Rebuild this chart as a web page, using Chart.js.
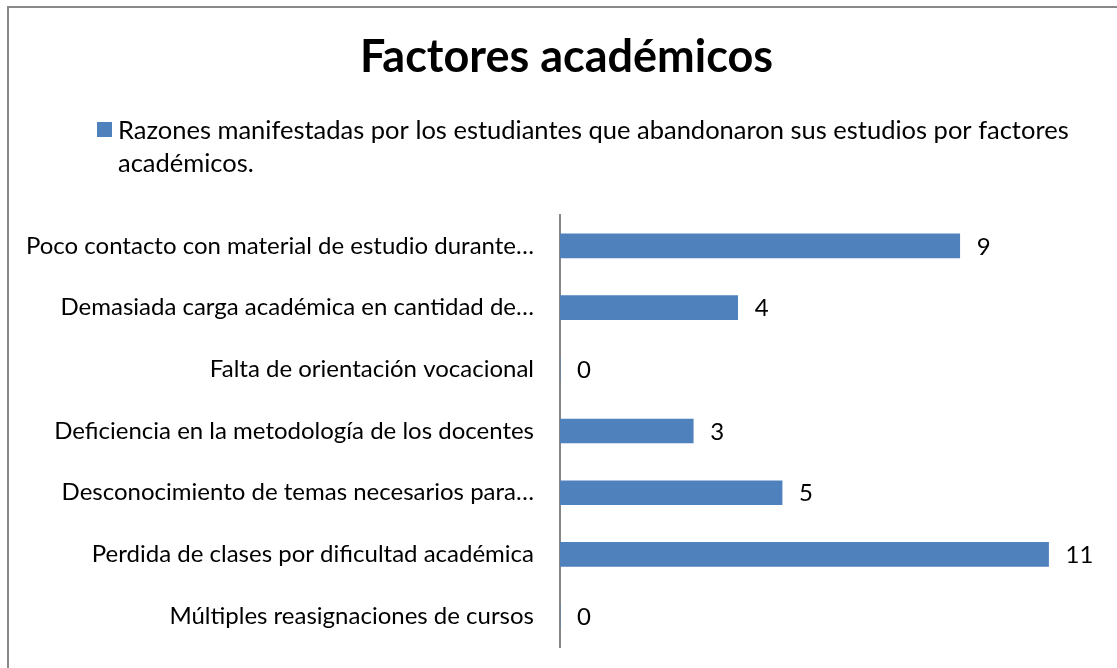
<!DOCTYPE html>
<html>
<head>
<meta charset="utf-8">
<script src="https://cdn.jsdelivr.net/npm/chart.js@4"></script>
<style>
  body { margin: 0; background: #fff; overflow: hidden; }
  #frame { position: absolute; left: 7px; top: 6px; width: 1200px; height: 700px; border-left: 2px solid #898989; border-top: 2px solid #898989; }
  #c { position: absolute; left: 0; top: 0; }
</style>
</head>
<body>
<div id="frame"></div>
<canvas id="c" width="1117" height="668"></canvas>
<script>
// Datos del gráfico
const categories = [
    'Poco contacto con material de estudio durante…',
    'Demasiada carga académica en cantidad de…',
    'Falta de orientación vocacional',
    'Deficiencia en la metodología de los docentes',
    'Desconocimiento de temas necesarios para…',
    'Perdida de clases por dificultad académica',
    'Múltiples reasignaciones de cursos'
];
const values = [9, 4, 0, 3, 5, 11, 0];
const seriesLabel = 'Razones manifestadas por los estudiantes que abandonaron sus estudios por factores académicos.';
const chartTitle = 'Factores académicos';

const FONT = 'Lato, "Noto Sans", sans-serif';
const BLUE = '#4F81BD';

// Correr el título un poco a la derecha (como en el original)
const titleShift = {
    id: 'titleShift',
    afterLayout(chart) {
        if (chart.titleBlock) chart.titleBlock.left = 40;
    }
};

// Leyenda dibujada a mano (el texto se parte en dos líneas)
const wrappedLegend = {
    id: 'wrappedLegend',
    afterDraw(chart) {
        const ctx = chart.ctx;
        ctx.save();
        ctx.fillStyle = BLUE;
        ctx.fillRect(97, 122, 15, 15);
        ctx.font = '25.5px ' + FONT;
        ctx.fillStyle = '#000';
        ctx.textBaseline = 'middle';
        // partir el texto por palabras
        const words = seriesLabel.split(' ');
        const lines = [];
        let cur = '';
        words.forEach(w => {
            const test = cur ? cur + ' ' + w : w;
            if (ctx.measureText(test).width > 975 && cur) {
                lines.push(cur);
                cur = w;
            } else {
                cur = test;
            }
        });
        lines.push(cur);
        lines.forEach((l, i) => ctx.fillText(l, 118, 131 + i * 33));
        ctx.restore();
    }
};

// Etiquetas de valor al final de cada barra
const valueLabels = {
    id: 'valueLabels',
    afterDatasetsDraw(chart) {
        const ctx = chart.ctx;
        const meta = chart.getDatasetMeta(0);
        ctx.save();
        ctx.font = '24px ' + FONT;
        ctx.fillStyle = '#000';
        ctx.textBaseline = 'middle';
        ctx.textAlign = 'left';
        meta.data.forEach((bar, i) => {
            ctx.fillText(String(values[i]), bar.x + 17, bar.y + 1);
        });
        ctx.restore();
    }
};

new Chart(document.getElementById('c'), {
    type: 'bar',
    data: {
        labels: categories,
        datasets: [{
            label: seriesLabel,
            data: values,
            backgroundColor: BLUE,
            borderWidth: 0,
            barThickness: 24
        }]
    },
    options: {
        indexAxis: 'y',
        responsive: false,
        animation: false,
        layout: { padding: { left: 0, right: 24, top: 0, bottom: 21 } },
        plugins: {
            legend: { display: false },
            tooltip: { enabled: false },
            title: {
                display: true,
                text: chartTitle,
                color: '#000',
                font: { family: FONT, size: 45, weight: 'bold', lineHeight: 1.2 },
                padding: { top: 30, bottom: 131 }
            }
        },
        scales: {
            x: {
                display: false,
                min: 0,
                max: 12
            },
            y: {
                // las marcas no se dibujan, solo dejan el hueco entre texto y eje
                grid: { display: false, drawTicks: true, tickLength: 26 },
                border: { display: true, color: '#868686', width: 2 },
                ticks: {
                    color: '#000',
                    padding: 0,
                    font: { family: FONT, size: 24 }
                },
                afterFit(scale) { scale.width = 560; }
            }
        }
    },
    plugins: [titleShift, wrappedLegend, valueLabels]
});
</script>
</body>
</html>
